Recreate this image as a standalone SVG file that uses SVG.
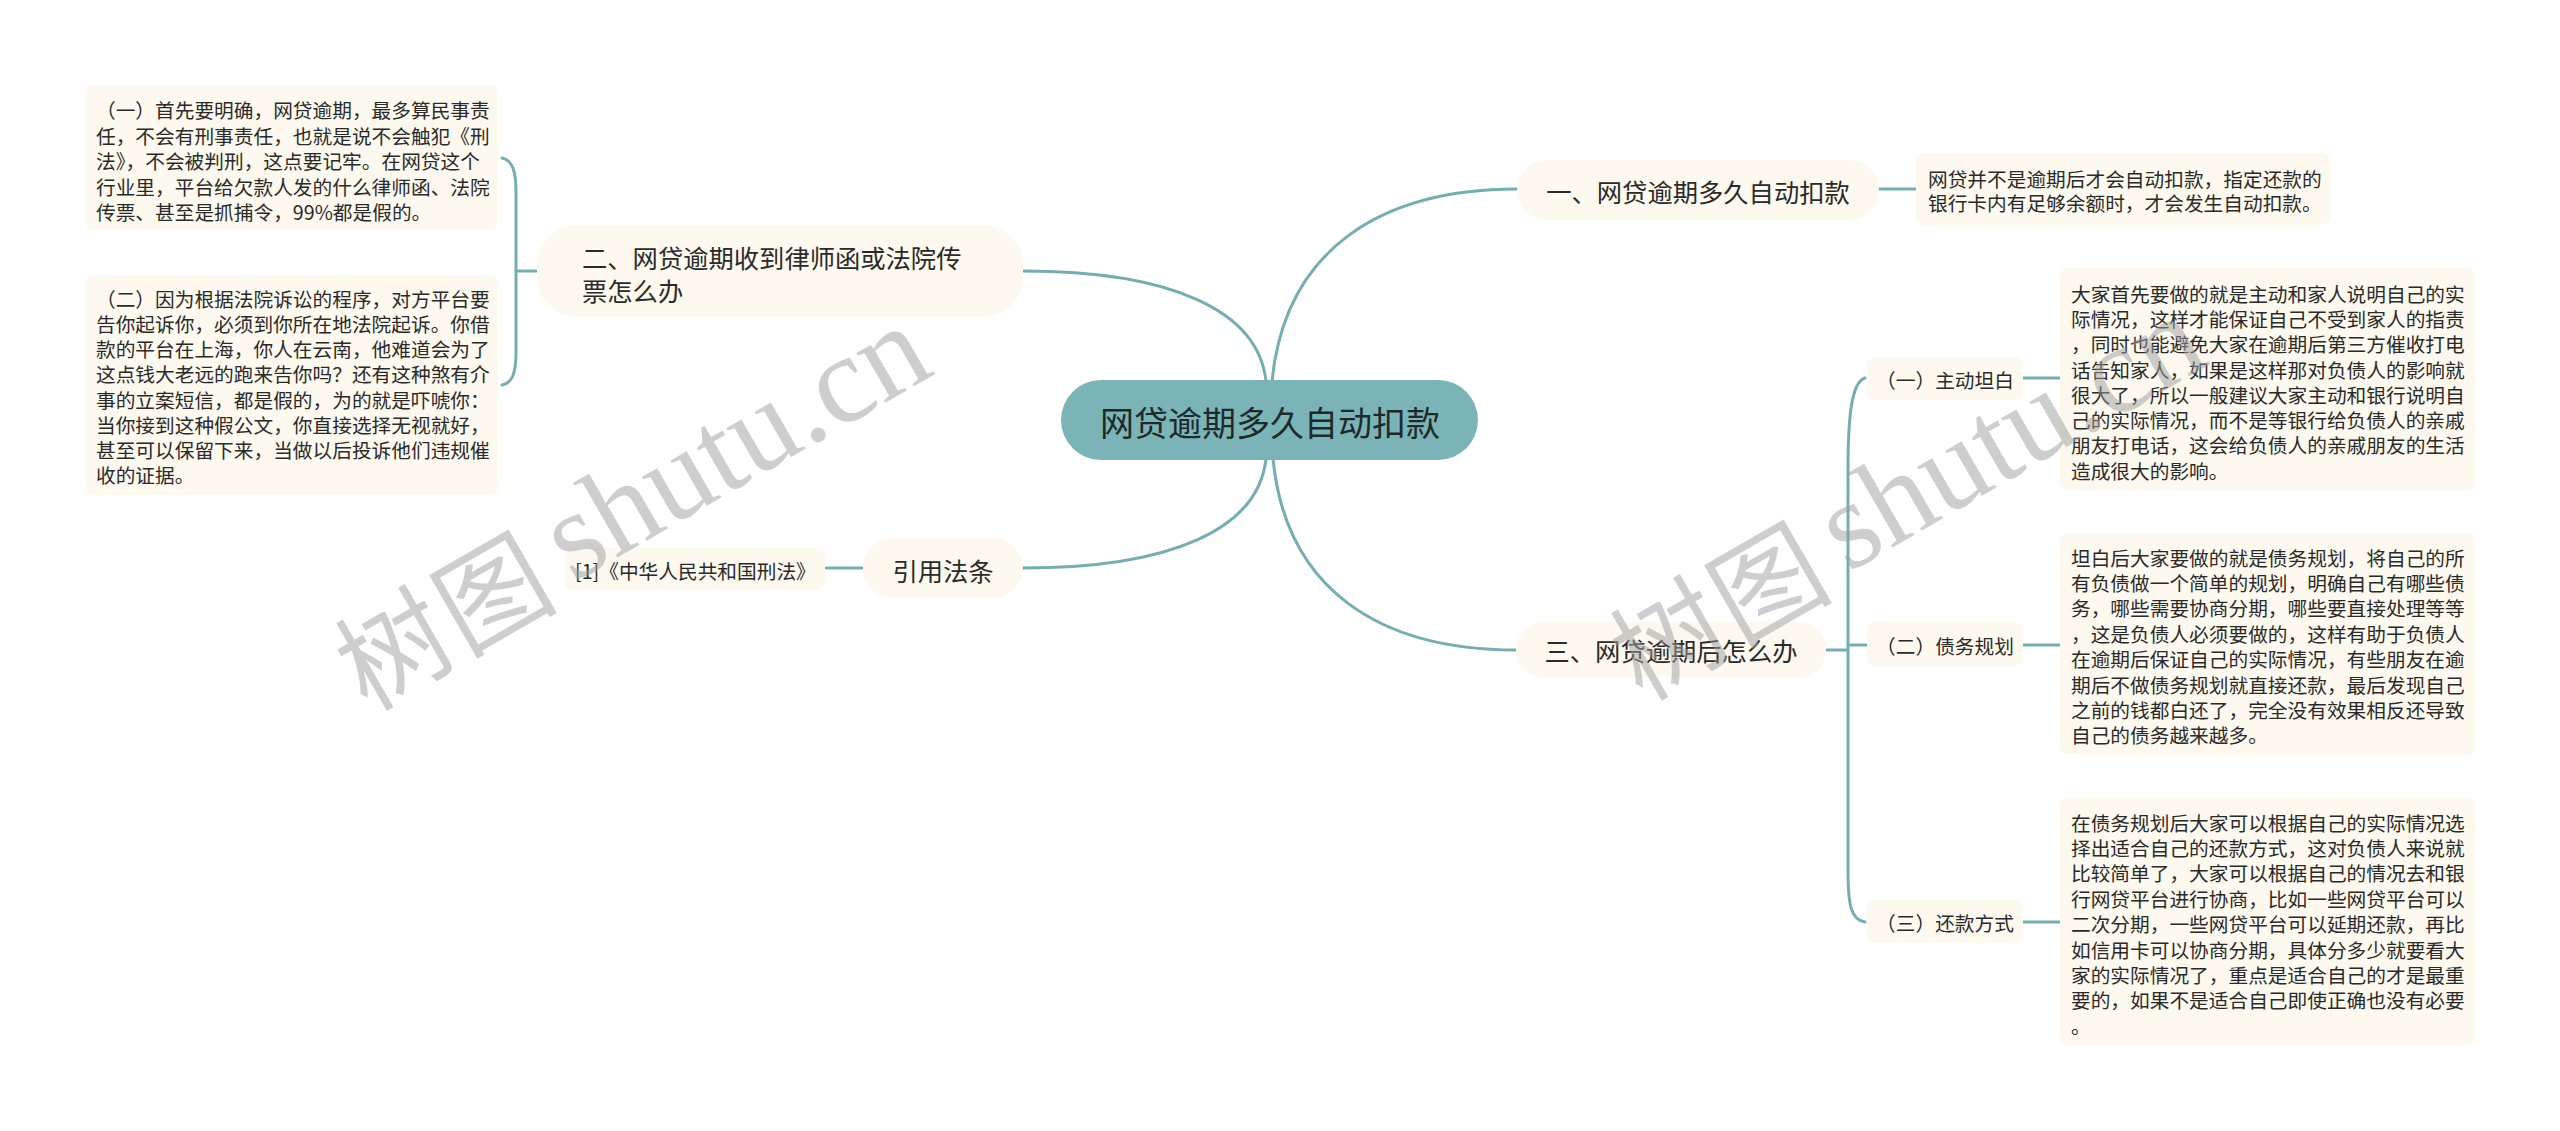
<svg xmlns="http://www.w3.org/2000/svg" width="2560" height="1131" viewBox="0 0 2560 1131">
<style>
.bg{fill:#ffffff}
.node{fill:#fdf9ee}
.root{fill:#7bb4b7}
.link{fill:none;stroke:#74aeb1;stroke-width:3;stroke-linecap:round}
text{font-family:"Noto Sans CJK SC","Liberation Sans",sans-serif;fill:#2a2a2a;dominant-baseline:central}
.t34{font-size:34px;fill:#1e2a2a}
.t25{font-size:25.3px}
.t20{font-size:19.7px}
.wm{font-family:"Liberation Serif","Noto Sans CJK SC",serif;fill:#9e9e9e;opacity:0.5;dominant-baseline:alphabetic}
</style>
<rect class="bg" x="0" y="0" width="2560" height="1131"/>
<g id="connectors">
<path class="link" d="M1266,381 C1258,310 1170,271 1023,271"/>
<path class="link" d="M1266,459 C1258,530 1170,568 1023,568"/>
<path class="link" d="M1272,381 C1285,250 1380,189 1517,189"/>
<path class="link" d="M1273,459 C1286,590 1380,650 1516,650"/>
<path class="link" d="M537,271 L516,271"/>
<path class="link" d="M502,158 C512,160 516,170 516,192 L516,352 C516,374 512,383 502,385"/>
<path class="link" d="M863,568 L825,568"/>
<path class="link" d="M1879,189 L1916,189"/>
<path class="link" d="M1826,650 L1848,650"/>
<path class="link" d="M1865,378 C1851,382 1848,420 1848,470 L1848,870 C1848,905 1851,920 1865,922"/>
<path class="link" d="M1848,645 L1867,645"/>
<path class="link" d="M2023,378 L2060,378"/>
<path class="link" d="M2023,645 L2060,645"/>
<path class="link" d="M2023,922 L2060,922"/>
</g>
<g id="root">
<rect class="root" x="1061" y="380" width="417" height="80" rx="40"/>
<text class="t34" x="1270" y="421" text-anchor="middle">网贷逾期多久自动扣款</text>
</g>
<g id="n2">
<rect class="node" x="537" y="225" width="486" height="92" rx="40"/>
<text class="t25" x="582" y="257">二、网贷逾期收到律师函或法院传</text>
<text class="t25" x="582" y="290">票怎么办</text>
</g>
<g id="n2-leaf1">
<rect class="node" x="86" y="85" width="412" height="145" rx="8"/>
<text class="t20" x="96" y="109.3">（一）首先要明确，网贷逾期，最多算民事责</text>
<text class="t20" x="96" y="135">任，不会有刑事责任，也就是说不会触犯《刑</text>
<text class="t20" x="96" y="160.6">法》，不会被判刑，这点要记牢。在网贷这个</text>
<text class="t20" x="96" y="186.2">行业里，平台给欠款人发的什么律师函、法院</text>
<text class="t20" x="96" y="211.8">传票、甚至是抓捕令，99%都是假的。</text>
</g>
<g id="n2-leaf2">
<rect class="node" x="86" y="275" width="412" height="220" rx="8"/>
<text class="t20" x="96" y="298.3">（二）因为根据法院诉讼的程序，对方平台要</text>
<text class="t20" x="96" y="323.5">告你起诉你，必须到你所在地法院起诉。你借</text>
<text class="t20" x="96" y="348.7">款的平台在上海，你人在云南，他难道会为了</text>
<text class="t20" x="96" y="373.9">这点钱大老远的跑来告你吗？还有这种煞有介</text>
<text class="t20" x="96" y="399.1">事的立案短信，都是假的，为的就是吓唬你：</text>
<text class="t20" x="96" y="424.3">当你接到这种假公文，你直接选择无视就好，</text>
<text class="t20" x="96" y="449.5">甚至可以保留下来，当做以后投诉他们违规催</text>
<text class="t20" x="96" y="474.7">收的证据。</text>
</g>
<g id="n4">
<rect class="node" x="863" y="538" width="160" height="60" rx="30"/>
<text class="t25" x="943" y="570" text-anchor="middle">引用法条</text>
</g>
<g id="n4-leaf">
<rect class="node" x="565" y="548" width="260" height="42" rx="8"/>
<text class="t20" x="575" y="570">[1]《中华人民共和国刑法》</text>
</g>
<g id="n1">
<rect class="node" x="1517" y="160" width="362" height="60" rx="30"/>
<text class="t25" x="1698" y="191" text-anchor="middle">一、网贷逾期多久自动扣款</text>
</g>
<g id="n1-leaf">
<rect class="node" x="1916" y="153" width="414" height="72" rx="8"/>
<text class="t20" x="1928" y="178.5">网贷并不是逾期后才会自动扣款，指定还款的</text>
<text class="t20" x="1928" y="202.5">银行卡内有足够余额时，才会发生自动扣款。</text>
</g>
<g id="n3">
<rect class="node" x="1516" y="622" width="310" height="56" rx="28"/>
<text class="t25" x="1671" y="650" text-anchor="middle">三、网贷逾期后怎么办</text>
</g>
<g id="n3-1">
<rect class="node" x="1867" y="357" width="156" height="43" rx="8"/>
<text class="t20" x="1945" y="379" text-anchor="middle">（一）主动坦白</text>
</g>
<g id="n3-1-leaf">
<rect class="node" x="2060" y="268" width="415" height="222" rx="8"/>
<text class="t20" x="2071" y="293.3">大家首先要做的就是主动和家人说明自己的实</text>
<text class="t20" x="2071" y="318.5">际情况，这样才能保证自己不受到家人的指责</text>
<text class="t20" x="2071" y="343.8">，同时也能避免大家在逾期后第三方催收打电</text>
<text class="t20" x="2071" y="369">话告知家人，如果是这样那对负债人的影响就</text>
<text class="t20" x="2071" y="394.3">很大了，所以一般建议大家主动和银行说明自</text>
<text class="t20" x="2071" y="419.5">己的实际情况，而不是等银行给负债人的亲戚</text>
<text class="t20" x="2071" y="444.8">朋友打电话，这会给负债人的亲戚朋友的生活</text>
<text class="t20" x="2071" y="470">造成很大的影响。</text>
</g>
<g id="n3-2">
<rect class="node" x="1867" y="622" width="156" height="44" rx="8"/>
<text class="t20" x="1945" y="645" text-anchor="middle">（二）债务规划</text>
</g>
<g id="n3-2-leaf">
<rect class="node" x="2060" y="533" width="415" height="222" rx="8"/>
<text class="t20" x="2071" y="557">坦白后大家要做的就是债务规划，将自己的所</text>
<text class="t20" x="2071" y="582.4">有负债做一个简单的规划，明确自己有哪些债</text>
<text class="t20" x="2071" y="607.8">务，哪些需要协商分期，哪些要直接处理等等</text>
<text class="t20" x="2071" y="633.2">，这是负债人必须要做的，这样有助于负债人</text>
<text class="t20" x="2071" y="658.6">在逾期后保证自己的实际情况，有些朋友在逾</text>
<text class="t20" x="2071" y="684">期后不做债务规划就直接还款，最后发现自己</text>
<text class="t20" x="2071" y="709.4">之前的钱都白还了，完全没有效果相反还导致</text>
<text class="t20" x="2071" y="734.8">自己的债务越来越多。</text>
</g>
<g id="n3-3">
<rect class="node" x="1867" y="900" width="156" height="43" rx="8"/>
<text class="t20" x="1945" y="922" text-anchor="middle">（三）还款方式</text>
</g>
<g id="n3-3-leaf">
<rect class="node" x="2060" y="798" width="415" height="247" rx="8"/>
<text class="t20" x="2071" y="822">在债务规划后大家可以根据自己的实际情况选</text>
<text class="t20" x="2071" y="847.4">择出适合自己的还款方式，这对负债人来说就</text>
<text class="t20" x="2071" y="872.8">比较简单了，大家可以根据自己的情况去和银</text>
<text class="t20" x="2071" y="898.2">行网贷平台进行协商，比如一些网贷平台可以</text>
<text class="t20" x="2071" y="923.6">二次分期，一些网贷平台可以延期还款，再比</text>
<text class="t20" x="2071" y="949">如信用卡可以协商分期，具体分多少就要看大</text>
<text class="t20" x="2071" y="974.4">家的实际情况了，重点是适合自己的才是最重</text>
<text class="t20" x="2071" y="999.8">要的，如果不是适合自己即使正确也没有必要</text>
<text class="t20" x="2071" y="1025">。</text>
</g>
<g id="watermarks">
<text class="wm" transform="translate(573,583) rotate(-30)"><tspan x="-243" y="9" font-family="Noto Sans CJK SC" font-size="110" letter-spacing="3">树图</tspan><tspan x="0" y="0" font-size="125">shutu.cn</tspan></text>
<text class="wm" transform="translate(1848,573) rotate(-30)"><tspan x="-243" y="9" font-family="Noto Sans CJK SC" font-size="110" letter-spacing="3">树图</tspan><tspan x="0" y="0" font-size="125">shutu.cn</tspan></text>
</g>
</svg>
